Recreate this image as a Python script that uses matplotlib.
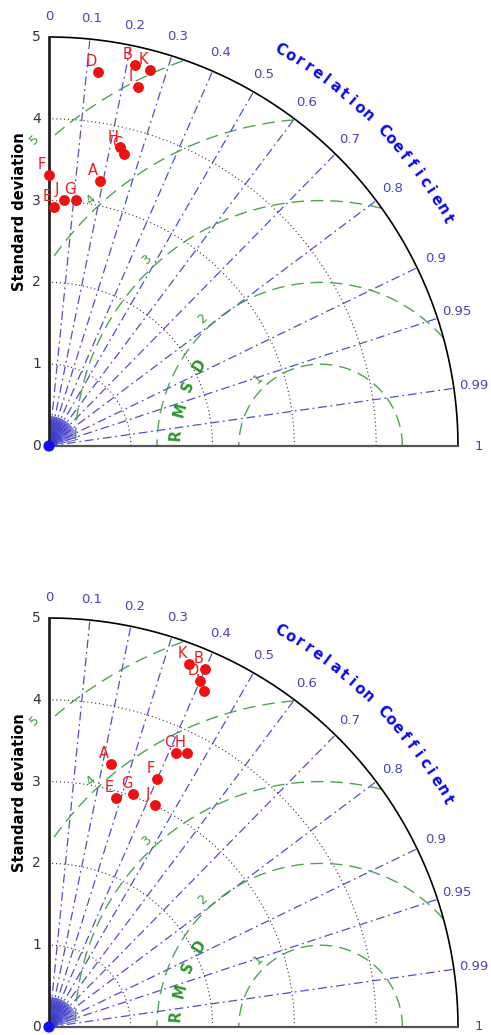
import numpy as np
import matplotlib.pyplot as plt

# model labels and statistics (same std in both panels)
labels = ['A', 'B', 'C', 'D', 'E', 'F', 'G', 'H', 'I', 'J', 'K']
std_dev = [3.30, 4.77, 3.69, 4.61, 2.92, 3.31, 3.03, 3.75, 4.52, 3.01, 4.76]
corr_top = [0.19, 0.22, 0.25, 0.13, 0.02, 0.00, 0.11, 0.23, 0.24, 0.06, 0.26]
corr_bottom = [0.23, 0.40, 0.42, 0.40, 0.28, 0.40, 0.34, 0.45, 0.42, 0.43, 0.36]
ref_std = 3.32

corr_ticks = [0.1, 0.2, 0.3, 0.4, 0.5, 0.6, 0.7, 0.8, 0.9, 0.95, 0.99]
corr_ticklabels = ['0.1', '0.2', '0.3', '0.4', '0.5', '0.6', '0.7', '0.8', '0.9', '0.95', '0.99']
std_ticks = [0, 1, 2, 3, 4, 5]
rmsd_ticks = [1, 2, 3, 4, 5]

RMAX = 5.0
BLUE = '#3b3bcc'
GREEN = '#3c9a3c'


def draw_taylor(ax, stds, cors):
    ax.set_xlim(0, RMAX)
    ax.set_ylim(0, RMAX)
    ax.set_aspect('equal')
    ax.axis('off')

    # correlation lines
    for c in corr_ticks:
        th = np.arccos(c)
        ax.plot([0, RMAX * np.cos(th)], [0, RMAX * np.sin(th)], color=BLUE,
                lw=0.9, ls=(0, (7, 3, 1.5, 3)), alpha=0.9)
    # minor correlation ticks near origin
    for c in np.arange(0.025, 1.0, 0.025):
        th = np.arccos(c)
        ax.plot([0.08 * np.cos(th), 0.36 * np.cos(th)],
                [0.08 * np.sin(th), 0.36 * np.sin(th)], color=BLUE,
                lw=0.7, alpha=0.8)
    ax.add_patch(plt.Circle((0, 0), 0.06, color='#1010ee', zorder=3, clip_on=False))

    # std dotted arcs
    t = np.linspace(0, np.pi / 2, 200)
    for r in [1, 2, 3, 4]:
        ax.plot(r * np.cos(t), r * np.sin(t), color='#333333', lw=0.8, ls=(0, (1, 2.5)))

    # RMSD arcs around reference
    tt = np.linspace(0, np.pi, 600)
    for r in rmsd_ticks:
        x = ref_std + r * np.cos(tt)
        y = r * np.sin(tt)
        mask = (x >= 0) & (x ** 2 + y ** 2 <= RMAX ** 2 + 1e-9)
        x = np.where(mask, x, np.nan)
        y = np.where(mask, y, np.nan)
        ax.plot(x, y, color=GREEN, lw=1.0, ls=(0, (9, 5)), alpha=0.9)
        a = np.deg2rad(133)
        ax.text(ref_std + (r + 0.12) * np.cos(a), (r + 0.12) * np.sin(a), str(r),
                color=GREEN, fontsize=9, rotation=43, ha='center', va='center',
                clip_on=False)

    # RMSD title letters
    for ch, ang in zip('RMSD', [175.5, 165.5, 156, 146.5]):
        a = np.deg2rad(ang)
        ax.text(ref_std + 1.78 * np.cos(a), 1.78 * np.sin(a), ch, color='#2a962a',
                fontsize=10.5, fontweight='bold', rotation=ang - 90,
                ha='center', va='center')

    # outer frame
    ax.plot(RMAX * np.cos(t), RMAX * np.sin(t), color='black', lw=1.2, clip_on=False)
    ax.plot([0, 0], [0, RMAX], color='#222222', lw=2.0, clip_on=False, solid_capstyle='butt')
    ax.plot([0, RMAX], [0, 0], color='#555555', lw=1.6, clip_on=False, solid_capstyle='butt')

    # std tick labels
    for s in std_ticks:
        ax.text(-0.1, s, str(s), ha='right', va='center', fontsize=10,
                color='#333333', clip_on=False)
    ax.text(-0.36, 2.87, 'Standard deviation', rotation=90, ha='center', va='center',
            fontsize=10.5, fontweight='bold', clip_on=False)

    # correlation tick labels
    for c, lab in zip([0.0] + corr_ticks + [1.0], ['0'] + corr_ticklabels + ['1']):
        th = np.arccos(c)
        ax.text(5.25 * np.cos(th), 5.25 * np.sin(th), lab, ha='center', va='center',
                fontsize=9.5, color='#4545bb', clip_on=False)

    # curved title
    title = 'Correlation Coefficient'
    angs = np.linspace(59.7, 29.7, len(title))
    for ch, ang in zip(title, angs):
        a = np.deg2rad(ang)
        ax.text(5.61 * np.cos(a), 5.61 * np.sin(a), ch, rotation=ang - 90,
                ha='center', va='center', fontsize=10.5, fontweight='bold',
                color='#0a0aee', clip_on=False)

    # model points
    for lab, s, c in zip(labels, stds, cors):
        th = np.arccos(c)
        x, y = s * np.cos(th), s * np.sin(th)
        ax.plot(x, y, 'o', color='#ee1111', markersize=6.8, zorder=5, clip_on=False)
        ax.annotate(lab, (x, y), xytext=(-5, 7.5), textcoords='offset points',
                    ha='center', va='center', color='#ee1a1a', fontsize=10.5, zorder=6)


fig = plt.figure(figsize=(4.91, 10.35), dpi=100)
ax1 = fig.add_axes([49 / 491, (1035 - 446) / 1035, 409 / 491, 409 / 1035])
ax2 = fig.add_axes([49 / 491, (1035 - 1027) / 1035, 409 / 491, 409 / 1035])
draw_taylor(ax1, std_dev, corr_top)
draw_taylor(ax2, std_dev, corr_bottom)

plt.savefig('out.png', dpi=100)
